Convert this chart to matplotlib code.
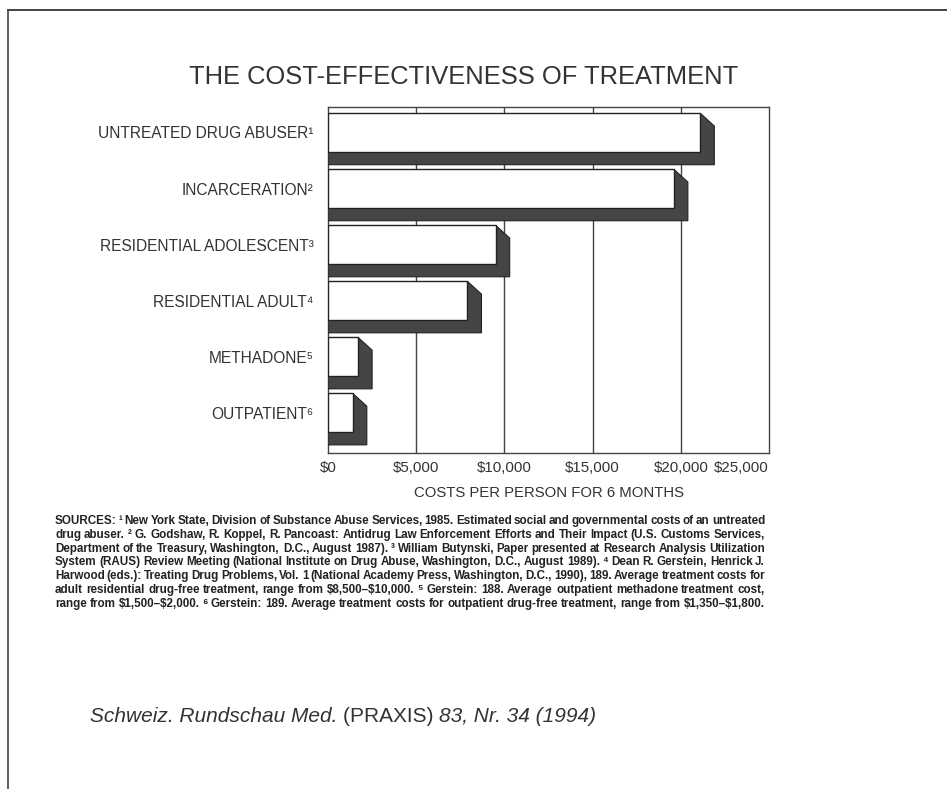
import matplotlib
matplotlib.use("Agg")
from matplotlib import pyplot as plt
from matplotlib.patches import Polygon, Rectangle
from matplotlib.lines import Line2D

# data
categories = ["UNTREATED DRUG ABUSER¹", "INCARCERATION²", "RESIDENTIAL ADOLESCENT³",
              "RESIDENTIAL ADULT⁴", "METHADONE⁵", "OUTPATIENT⁶"]
costs = [21100, 19600, 9500, 7900, 1700, 1400]
xticks = [0, 5000, 10000, 15000, 20000, 25000]
xticklabels = ["\\$0", "\\$5,000", "\\$10,000", "\\$15,000", "\\$20,000", "\\$25,000"]

sources = [
    "SOURCES: ¹ New York State, Division of Substance Abuse Services, 1985. Estimated social and governmental costs of an untreated",
    "drug abuser. ² G. Godshaw, R. Koppel, R. Pancoast: Antidrug Law Enforcement Efforts and Their Impact (U.S. Customs Services,",
    "Department of the Treasury, Washington, D.C., August 1987). ³ William Butynski, Paper presented at Research Analysis Utilization",
    "System (RAUS) Review Meeting (National Institute on Drug Abuse, Washington, D.C., August 1989). ⁴ Dean R. Gerstein, Henrick J.",
    "Harwood (eds.): Treating Drug Problems, Vol. 1 (National Academy Press, Washington, D.C., 1990), 189. Average treatment costs for",
    "adult residential drug-free treatment, range from $8,500–$10,000. ⁵ Gerstein: 188. Average outpatient methadone treatment cost,",
    "range from $1,500–$2,000. ⁶ Gerstein: 189. Average treatment costs for outpatient drug-free treatment, range from $1,350–$1,800.",
]

FONT = ["Liberation Sans", "DejaVu Sans"]
NARROW = ["Liberation Sans Narrow", "Liberation Sans", "DejaVu Sans"]
INK = "#333333"
W, H = 947, 789

fig = plt.figure(figsize=(9.47, 7.89), dpi=100)
ax = fig.add_axes([328 / W, 1 - 453 / H, 441 / W, 346 / H])

h = 0.69     # front face height
dx = 800     # 3d depth in x
dy = 0.23    # 3d depth in y
n = len(categories)

for i, v in enumerate(costs):
    top = i - h / 2
    bot = i + h / 2
    shadow = Polygon([(0, bot), (0, bot + dy), (v + dx, bot + dy), (v + dx, top + dy),
                      (v, top), (v, bot)], closed=True, facecolor="#454545",
                     edgecolor="#222222", lw=0.8, zorder=3)
    ax.add_patch(shadow)
    ax.add_patch(Rectangle((0, top), v, h, facecolor="white", edgecolor="#222222",
                           lw=1.0, zorder=4))

for x in xticks[1:-1]:
    ax.axvline(x, color="#444444", lw=1.0, zorder=1)

ax.set_xlim(0, 25000)
ax.set_ylim(n - 1 + 0.72, -0.455)
ax.set_yticks(range(n))
ax.set_yticklabels(categories, family=FONT, fontsize=11.2, color=INK)
ax.tick_params(axis="y", length=0, pad=10.5)
ax.set_xticks(xticks)
ax.set_xticklabels(xticklabels, family=FONT, fontsize=10.8, color=INK)
ax.tick_params(axis="x", length=0, pad=6)
lbls = ax.get_xticklabels()
lbls[-1].set_ha("right")
ax.set_xlabel("COSTS PER PERSON FOR 6 MONTHS", family=FONT, fontsize=10.7, color=INK, labelpad=8)
for s in ax.spines.values():
    s.set_color("#444444")
    s.set_linewidth(1.0)

fig.text(464 / W, 1 - 77 / H, "THE COST-EFFECTIVENESS OF TREATMENT", ha="center",
         va="center", family=FONT, fontsize=18.4, color=INK)

# sources block, justified between x=55 and x=765
fig.canvas.draw()
renderer = fig.canvas.get_renderer()
x0, x1 = 55, 765
for k, line in enumerate(sources):
    y = 1 - (524 + k * 13.8) / H
    words = line.split(" ")
    arts = []
    for w in words:
        t = fig.text(0, y, w, ha="left", va="baseline", family=NARROW, fontsize=8.35,
                     weight="bold", color="#222222", parse_math=False)
        arts.append(t)
    widths = [t.get_window_extent(renderer).width for t in arts]
    gap = (x1 - x0 - sum(widths)) / (len(arts) - 1)
    xpos = x0
    for t, wd in zip(arts, widths):
        t.set_x(xpos / W)
        xpos += wd + gap

# citation
y_cit = 1 - 717 / H
t1 = fig.text(90 / W, y_cit, "Schweiz. Rundschau Med. ", ha="left", va="center",
              family=FONT, fontsize=15, style="italic", color=INK)
bb = t1.get_window_extent(renderer)
t2 = fig.text(bb.x1 / W, y_cit, "(PRAXIS) ", ha="left", va="center",
              family=FONT, fontsize=15, color=INK)
bb = t2.get_window_extent(renderer)
fig.text(bb.x1 / W, y_cit, "83, Nr. 34 (1994)", ha="left", va="center",
         family=FONT, fontsize=15, style="italic", color=INK)

# page frame
fig.add_artist(Line2D([8 / W, 1], [1 - 10 / H, 1 - 10 / H], color="#222222", lw=1.2))
fig.add_artist(Line2D([8 / W, 8 / W], [0, 1 - 10 / H], color="#444444", lw=1.2))

fig.savefig("out.png", dpi=100)
